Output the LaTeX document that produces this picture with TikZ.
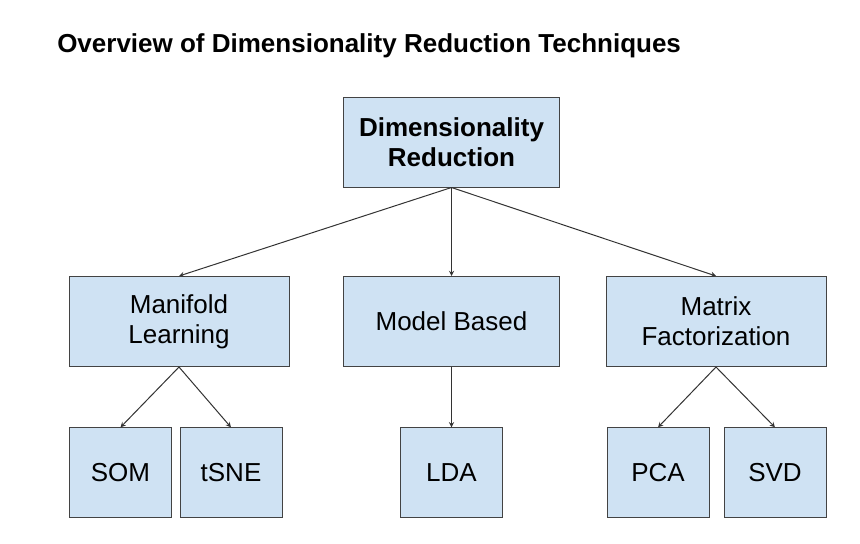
\documentclass[tikz,border=0pt]{standalone}
\usepackage{fontspec}
\setmainfont{Liberation Sans}
\usepackage{tikz}
\usetikzlibrary{arrows}

\definecolor{boxblue}{HTML}{CFE2F3}
\definecolor{edgegray}{HTML}{434343}

\tikzset{
    box/.style={draw=edgegray, fill=boxblue, line width=0.75pt, inner sep=0pt,
        align=center, font=\fontsize{19.5}{22.5}\selectfont},
    midbox/.style={box, minimum width=165pt, minimum height=67.5pt},
    leafbox/.style={box, minimum width=76.5pt, minimum height=67pt},
    link/.style={-stealth, draw=black!80, line width=0.75pt}
}

\begin{document}
\begin{tikzpicture}[x=0.75pt, y=-0.75pt]
        \useasboundingbox (0,0) rectangle (860,543);
        
        \node[anchor=base west, inner sep=0pt, font=\bfseries\fontsize{19.5}{23}\selectfont] (title) at (57,52) {Overview of Dimensionality Reduction Techniques};
        
        % top level
        \node[box, minimum width=162pt, minimum height=67.5pt, font=\bfseries\fontsize{19.5}{22.5}\selectfont] (dimred) at (451.5,142) {Dimensionality\\Reduction};
        
        % families
        \node[midbox] (manifold) at (179,321.5) {Manifold\\Learning};
        \node[midbox, minimum width=162pt] (model) at (451.5,321.5) {Model Based};
        \node[midbox] (matrix) at (716,321.5) {Matrix\\Factorization};
        
        % methods
        \node[leafbox] (som) at (120.5,472.5) {SOM};
        \node[leafbox] (tsne) at (231,472.5) {tSNE};
        \node[leafbox] (lda) at (451.5,472.5) {LDA};
        \node[leafbox] (pca) at (658,472.5) {PCA};
        \node[leafbox] (svd) at (775,472.5) {SVD};
        
        \draw [link] (dimred.south) -- (manifold.north);
        \draw [link] (dimred.south) -- (model.north);
        \draw [link] (dimred.south) -- (matrix.north);
        
        \draw [link] (manifold.south) -- (som.north);
        \draw [link] (manifold.south) -- (tsne.north);
        \draw [link] (model.south) -- (lda.north);
        \draw [link] (matrix.south) -- (pca.north);
        \draw [link] (matrix.south) -- (svd.north);
\end{tikzpicture}
\end{document}
